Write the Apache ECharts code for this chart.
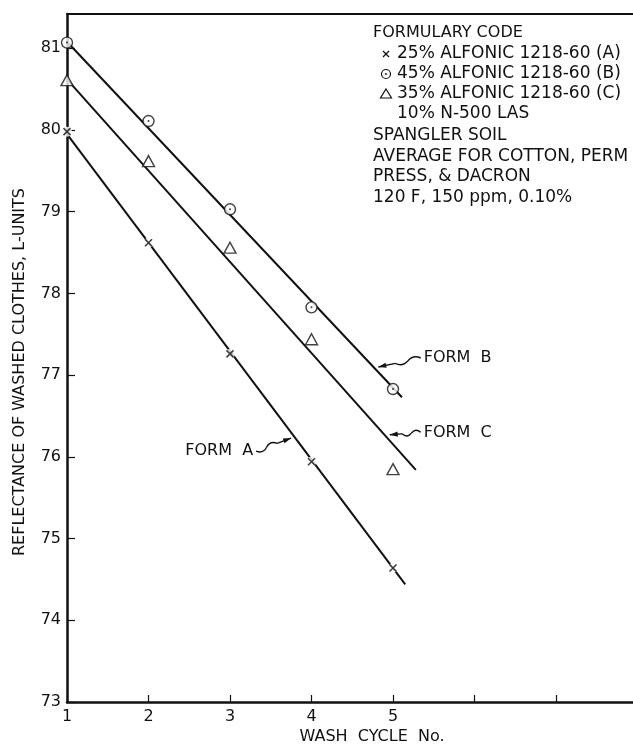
<!DOCTYPE html>
<html><head><meta charset="utf-8">
<script src="https://cdn.jsdelivr.net/npm/echarts@6/dist/echarts.min.js"></script>
<style>html,body{margin:0;padding:0;background:#fff}#c{width:633px;height:744px}</style>
</head><body><div id="c"></div>
<script>
// ---- data ----
const cycles = [1, 2, 3, 4, 5];
const formA = [79.98, 78.62, 77.26, 75.94, 74.64];
const formB = [81.07, 80.11, 79.03, 77.83, 76.83];
const formC = [80.61, 79.62, 78.56, 77.44, 75.85];
const fitA = [[1, 79.95], [5.15, 74.44]];
const fitB = [[1, 81.08], [5.11, 76.73]];
const fitC = [[1, 80.62], [5.28, 75.84]];
const xTickLabels = [1, 2, 3, 4, 5];
const annotLabels = ['FORM  A', 'FORM  B', 'FORM  C'];
const annotTip = [[3.75, 76.23], [4.82, 77.10], [4.96, 76.27]];
const annotTail = [[3.32, 76.07], [5.34, 77.21], [5.34, 76.30]];
const legendLines = ['25% ALFONIC 1218-60 (A)', '45% ALFONIC 1218-60 (B)', '35% ALFONIC 1218-60 (C)', '10% N-500 LAS'];
const noteLines = ['SPANGLER SOIL', 'AVERAGE FOR COTTON, PERM', 'PRESS, & DACRON', '120 F, 150 ppm, 0.10%'];

const FONT = 'DejaVu Sans';
const INK = '#111';
const pts = arr => cycles.map((c, i) => [c, arr[i]]);

const chart = echarts.init(document.getElementById('c'), null, {renderer: 'canvas'});
const xMark = 'path://M0,0L10,10M10,0L0,10';

const option = {
  animation: false,
  backgroundColor: '#fff',
  grid: {left: 67, top: 14, width: 570.5, height: 688, show: false, outerBoundsMode: 'none', containLabel: false},
  xAxis: [{
    type: 'value', min: 1, max: 8, interval: 1, position: 'bottom',
    axisLine: {show: true, lineStyle: {color: INK, width: 2.5}},
    axisTick: {show: true, inside: true, length: 7, lineStyle: {color: INK, width: 1.2}},
    axisLabel: {color: INK, fontFamily: FONT, fontSize: 16, margin: 7,
      formatter: v => xTickLabels.includes(v) ? String(v) : ''},
    splitLine: {show: false}
  }, {
    type: 'value', min: 1, max: 8, position: 'top',
    axisLine: {show: true, lineStyle: {color: INK, width: 2}},
    axisTick: {show: false}, axisLabel: {show: false}, splitLine: {show: false}
  }],
  yAxis: {
    type: 'value', min: 73, max: 81.42, interval: 1,
    axisLine: {show: true, lineStyle: {color: INK, width: 2.5}},
    axisTick: {show: true, inside: true, length: 8, lineStyle: {color: INK, width: 1.2}},
    axisLabel: {color: INK, fontFamily: FONT, fontSize: 16, margin: 6, showMaxLabel: false},
    splitLine: {show: false}
  },
  series: [
    {type: 'line', data: fitA, showSymbol: false, lineStyle: {color: INK, width: 2}, z: 2, silent: true},
    {type: 'line', data: fitB, showSymbol: false, lineStyle: {color: INK, width: 2}, z: 2, silent: true},
    {type: 'line', data: fitC, showSymbol: false, lineStyle: {color: INK, width: 2}, z: 2, silent: true},
    // white gaps around the x marks
    {type: 'scatter', data: pts(formA), symbol: 'circle', symbolSize: 10, itemStyle: {color: '#fff'}, z: 3, silent: true},
    {type: 'scatter', data: pts(formA), symbol: xMark, symbolSize: 7, itemStyle: {color: 'none', borderColor: INK, borderWidth: 1.6}, z: 4, silent: true},
    {type: 'scatter', data: pts(formB), symbol: 'circle', symbolSize: 11, itemStyle: {color: '#fff', borderColor: INK, borderWidth: 1.4}, z: 4, silent: true},
    {type: 'scatter', data: pts(formB), symbol: 'circle', symbolSize: 2, itemStyle: {color: INK}, z: 5, silent: true},
    {type: 'scatter', data: pts(formC), symbol: 'triangle', symbolSize: [12, 11], itemStyle: {color: '#fff', borderColor: INK, borderWidth: 1.4}, z: 4, silent: true}
  ]
};
chart.setOption(option);

// ---- text block and annotations ----
const g = [];
const txt = (x, y, s, opts = {}) => g.push({type: 'text', x, y, z: 20, style: Object.assign({text: s, fill: INK, font: '16px "' + FONT + '"', textVerticalAlign: 'middle', textAlign: 'left'}, opts)});
const F17 = '17px "' + FONT + '"';

txt(373, 33, 'FORMULARY CODE');
legendLines.forEach((s, i) => txt(397, 54 + 20 * i, s, {font: F17}));
noteLines.forEach((s, i) => txt(373, 136 + 20.5 * i, s, {font: F17}));
// legend symbols
g.push({type: 'line', z: 20, shape: {x1: 383, y1: 51, x2: 389, y2: 57}, style: {stroke: INK, lineWidth: 1.3}});
g.push({type: 'line', z: 20, shape: {x1: 389, y1: 51, x2: 383, y2: 57}, style: {stroke: INK, lineWidth: 1.3}});
g.push({type: 'circle', z: 20, shape: {cx: 386, cy: 74, r: 4.5}, style: {fill: '#fff', stroke: INK, lineWidth: 1.2}});
g.push({type: 'circle', z: 21, shape: {cx: 386, cy: 74, r: 0.9}, style: {fill: INK}});
g.push({type: 'polygon', z: 20, shape: {points: [[386, 89], [391.5, 98], [380.5, 98]]}, style: {fill: '#fff', stroke: INK, lineWidth: 1.2}});

// y axis name
g.push({type: 'text', x: 20, y: 372, rotation: Math.PI / 2, z: 20,
  style: {text: 'REFLECTANCE OF WASHED CLOTHES, L-UNITS', fill: INK, font: '16px "' + FONT + '"', textAlign: 'center', textVerticalAlign: 'middle'}});
// x axis name
txt(372, 737, 'WASH  CYCLE  No.', {textAlign: 'center'});

annotLabels.forEach((lab, i) => {
  const tip = chart.convertToPixel({gridIndex: 0}, annotTip[i]);
  const tail = chart.convertToPixel({gridIndex: 0}, annotTail[i]);
  const dx = tip[0] - tail[0], dy = tip[1] - tail[1];
  const len = Math.hypot(dx, dy);
  const nx = -dy / len, ny = dx / len;
  const P = t => [tail[0] + dx * t, tail[1] + dy * t];
  const a = P(0.15), b = P(0.3), c = P(0.45), d = P(0.6);
  g.push({type: 'bezierCurve', z: 20, shape: {x1: tail[0], y1: tail[1], cpx1: a[0] + nx * 5, cpy1: a[1] + ny * 5, x2: b[0], y2: b[1]}, style: {fill: null, stroke: INK, lineWidth: 1.4}});
  g.push({type: 'bezierCurve', z: 20, shape: {x1: b[0], y1: b[1], cpx1: c[0] - nx * 5, cpy1: c[1] - ny * 5, x2: d[0], y2: d[1]}, style: {fill: null, stroke: INK, lineWidth: 1.4}});
  g.push({type: 'line', z: 20, shape: {x1: d[0], y1: d[1], x2: tip[0], y2: tip[1]}, style: {stroke: INK, lineWidth: 1.4}});
  const ux = tip[0] - d[0], uy = tip[1] - d[1];
  const ul = Math.hypot(ux, uy);
  const ex = ux / ul, ey = uy / ul;
  const base = [tip[0] - ex * 8, tip[1] - ey * 8];
  g.push({type: 'polygon', z: 20, shape: {points: [tip, [base[0] - ey * 2.6, base[1] + ex * 2.6], [base[0] + ey * 2.6, base[1] - ex * 2.6]]}, style: {fill: INK}});
  if (i === 0) txt(tail[0] - 3, tail[1], lab, {textAlign: 'right'});
  else txt(tail[0] + 3, tail[1], lab, {textAlign: 'left'});
});

chart.setOption({graphic: {elements: g}});
</script>
</body></html>
